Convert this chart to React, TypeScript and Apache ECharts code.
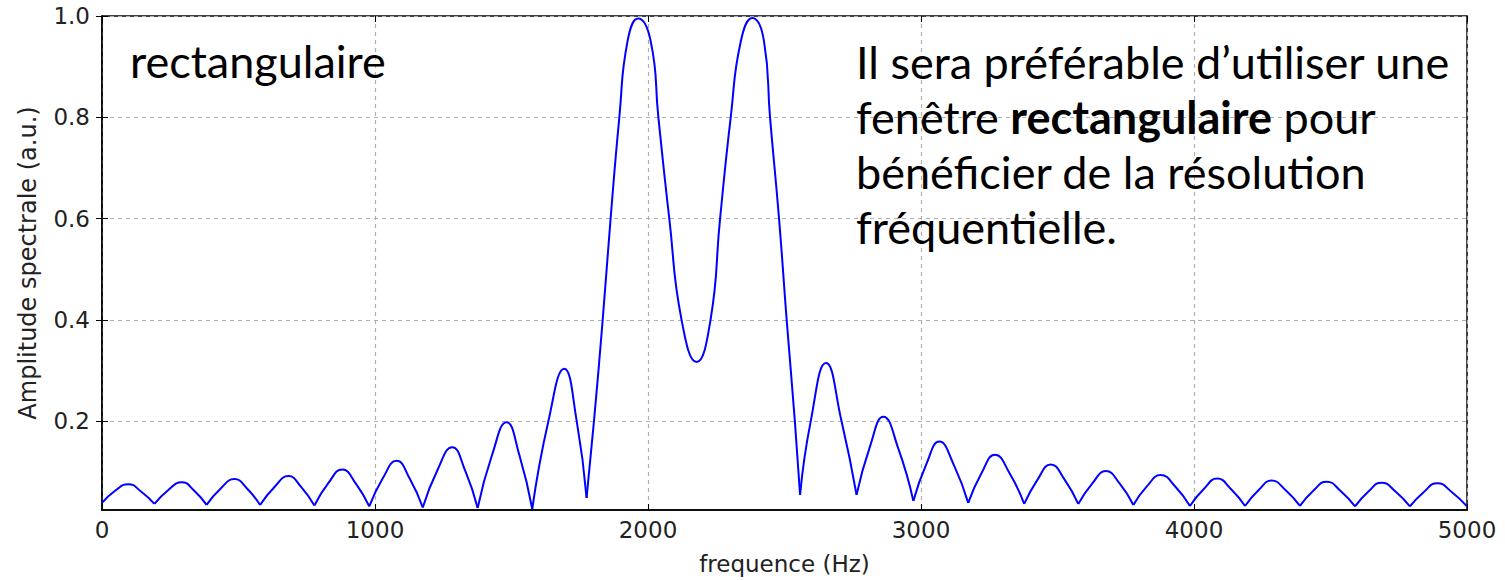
import React, { useEffect, useRef } from "react";
import * as echarts from "echarts";

const frequencies = [
  0, 48, 96, 144, 192, 242, 292, 338, 383, 434, 485, 532, 579, 631, 683, 730, 778, 829, 880, 930,
  979, 1029, 1079, 1127, 1175, 1229, 1283, 1330, 1376, 1429, 1482, 1529, 1576, 1635, 1693, 1739,
  1775, 1802, 1834, 1863, 1895, 1925, 1964, 2010, 2038, 2078, 2123, 2178, 2229, 2264, 2303, 2340,
  2382, 2425, 2447, 2480, 2508, 2538, 2557, 2596, 2652, 2709, 2764, 2813, 2862, 2917, 2972, 3020,
  3067, 3120, 3173, 3222, 3271, 3325, 3378, 3427, 3475, 3526, 3576, 3627, 3677, 3728, 3778, 3828,
  3878, 3932, 3985, 4035, 4085, 4136, 4187, 4236, 4284, 4336, 4388, 4437, 4486, 4538, 4590, 4638,
  4687, 4739, 4791, 4841, 4891, 4945, 5000,
];

const amplitudes = [
  0.039, 0.063, 0.076, 0.061, 0.037, 0.064, 0.080, 0.063, 0.035, 0.067, 0.086, 0.067, 0.035, 0.070,
  0.092, 0.070, 0.034, 0.078, 0.105, 0.077, 0.032, 0.088, 0.122, 0.087, 0.030, 0.104, 0.149, 0.103,
  0.029, 0.134, 0.198, 0.133, 0.027, 0.200, 0.304, 0.200, 0.049, 0.200, 0.400, 0.600, 0.800, 0.950,
  0.995, 0.950, 0.800, 0.600, 0.400, 0.317, 0.400, 0.600, 0.800, 0.950, 0.996, 0.950, 0.800, 0.600,
  0.400, 0.200, 0.055, 0.200, 0.315, 0.200, 0.055, 0.150, 0.209, 0.146, 0.043, 0.116, 0.160, 0.114,
  0.039, 0.098, 0.134, 0.097, 0.037, 0.085, 0.115, 0.085, 0.037, 0.077, 0.102, 0.077, 0.035, 0.072,
  0.094, 0.071, 0.033, 0.066, 0.087, 0.066, 0.033, 0.064, 0.083, 0.064, 0.033, 0.063, 0.081, 0.062,
  0.032, 0.061, 0.079, 0.061, 0.032, 0.060, 0.078, 0.060, 0.032,
];

const xMin = 0;
const xMax = 5000;
const xStep = 1000;
const yMin = 0.025;
const yMax = 1.0;
const yTicks = [0.2, 0.4, 0.6, 0.8, 1.0];

const xTitle = "frequence (Hz)";
const yTitle = "Amplitude spectrale (a.u.)";
const leftNote = "rectangulaire";
const rightNoteLines = [
  "Il sera préférable d’utiliser une",
  "fenêtre {b|rectangulaire} pour",
  "bénéficier de la résolution",
  "fréquentielle.",
];

const TICK_FONT = "DejaVu Sans";
const NOTE_FONT = "Lato";

// split the spectrum into lobes at its near-zero minima so that these stay sharp
function splitLobes(): number[][][] {
  const out: number[][][] = [];
  let cur: number[][] = [[frequencies[0], amplitudes[0]]];
  for (let i = 1; i < frequencies.length; i++) {
    const pt = [frequencies[i], amplitudes[i]];
    cur.push(pt);
    const isMin =
      i < frequencies.length - 1 &&
      amplitudes[i] < amplitudes[i - 1] &&
      amplitudes[i] < amplitudes[i + 1] &&
      amplitudes[i] < 0.1;
    if (isMin) {
      out.push(cur);
      cur = [pt];
    }
  }
  out.push(cur);
  return out;
}

export default function App() {
  const ref = useRef<HTMLDivElement>(null);

  useEffect(() => {
    if (!ref.current) return;
    const chart = echarts.init(ref.current, undefined, { renderer: "svg" });

    const lobes = splitLobes();
    const gridLine = { show: true, lineStyle: { color: "#b0b0b0", type: [4, 4] as any, width: 1.2 } };
    const tickLabel = { color: "#222", fontFamily: TICK_FONT, fontSize: 23 };
    const noteSize = 45;

    chart.setOption({
      animation: false,
      backgroundColor: "#fff",
      grid: {
        left: 102,
        right: 38,
        top: 16,
        bottom: 68,
        show: true,
        borderColor: "#000",
        borderWidth: 1.5,
        backgroundColor: "transparent",
      },
      xAxis: [
        {
          type: "value",
          min: xMin,
          max: xMax,
          interval: xStep,
          position: "bottom",
          axisLine: { show: true, lineStyle: { color: "#000", width: 1.5 } },
          axisTick: { show: true, inside: true, length: 6, lineStyle: { color: "#000", width: 1 } },
          axisLabel: { ...tickLabel, margin: 8, formatter: (v: number) => String(Math.round(v)) },
          splitLine: gridLine,
          name: xTitle,
          nameLocation: "middle",
          nameGap: 42,
          nameTextStyle: { color: "#222", fontFamily: TICK_FONT, fontSize: 23 },
        },
        {
          type: "value",
          min: xMin,
          max: xMax,
          interval: xStep,
          position: "top",
          axisLine: { show: false },
          axisTick: { show: true, inside: true, length: 6, lineStyle: { color: "#000", width: 1 } },
          axisLabel: { show: false },
          splitLine: { show: false },
        },
      ],
      yAxis: [
        {
          type: "value",
          min: yMin,
          max: yMax,
          position: "left",
          axisLine: { show: true, lineStyle: { color: "#000", width: 1.5 } },
          axisTick: {
            show: true,
            inside: true,
            length: 6,
            customValues: yTicks,
            lineStyle: { color: "#000", width: 1 },
          },
          axisLabel: {
            ...tickLabel,
            margin: 12,
            customValues: yTicks,
            formatter: (v: number) => v.toFixed(1),
          },
          splitLine: gridLine,
          name: yTitle,
          nameLocation: "middle",
          nameGap: 62,
          nameTextStyle: { color: "#222", fontFamily: TICK_FONT, fontSize: 24 },
        },
        {
          type: "value",
          min: yMin,
          max: yMax,
          position: "right",
          axisLine: { show: false },
          axisTick: {
            show: true,
            inside: true,
            length: 6,
            customValues: yTicks,
            lineStyle: { color: "#000", width: 1 },
          },
          axisLabel: { show: false, customValues: yTicks },
          splitLine: { show: false },
        },
      ],
      series: lobes.map((seg) => ({
        type: "line",
        xAxisIndex: 0,
        yAxisIndex: 0,
        data: seg,
        showSymbol: false,
        smooth: 0.5,
        lineStyle: { color: "#0000ff", width: 2, join: "round" },
        itemStyle: { color: "#0000ff" },
        clip: true,
        z: 3,
      })),
      graphic: [
        {
          type: "text",
          x: 130,
          y: 61,
          z: 10,
          style: {
            text: leftNote,
            fill: "#000",
            fontFamily: NOTE_FONT,
            fontSize: noteSize,
            align: "left",
            verticalAlign: "middle",
          },
        },
        {
          type: "text",
          x: 856,
          y: 34,
          z: 10,
          style: {
            text: rightNoteLines.join("\n"),
            fill: "#000",
            fontFamily: NOTE_FONT,
            fontSize: noteSize,
            lineHeight: 55,
            align: "left",
            verticalAlign: "top",
            rich: {
              b: {
                fontFamily: NOTE_FONT,
                fontSize: noteSize,
                fontWeight: "bold",
                lineHeight: 55,
                fill: "#000",
              },
            },
          },
        },
      ],
    });

    return () => chart.dispose();
  }, []);

  return (
    <div
      ref={ref}
      style={{ position: "absolute", left: 0, top: 0, width: 1505, height: 580, background: "#fff" }}
    />
  );
}
